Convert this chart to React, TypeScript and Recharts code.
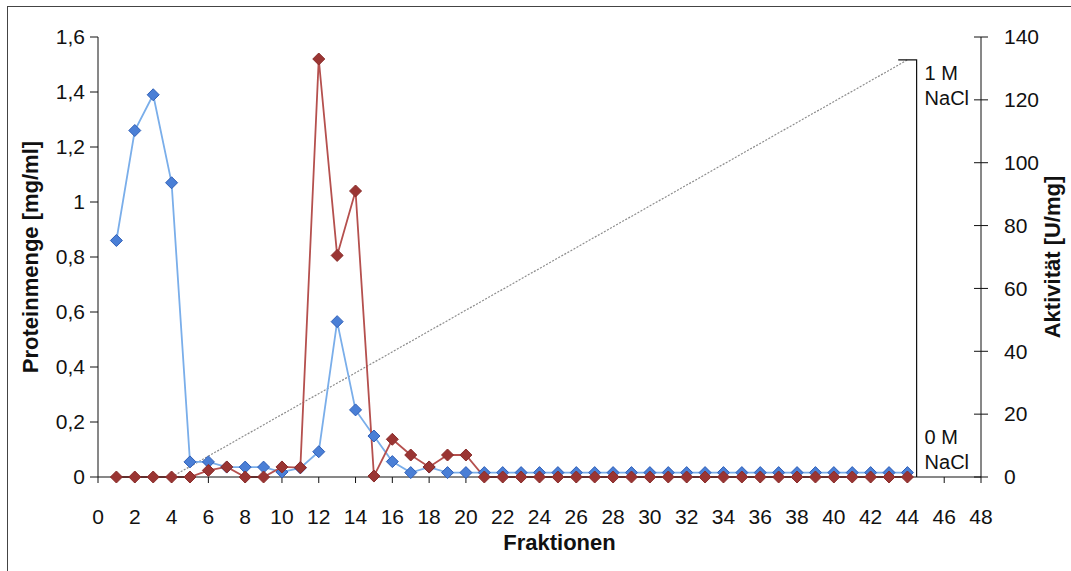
import React from "react";
import { LineChart, Line, XAxis, YAxis, Label } from "recharts";

// Fraction numbers collected from the column
const fractions = [
  1, 2, 3, 4, 5, 6, 7, 8, 9, 10, 11, 12, 13, 14, 15, 16, 17, 18, 19, 20, 21, 22,
  23, 24, 25, 26, 27, 28, 29, 30, 31, 32, 33, 34, 35, 36, 37, 38, 39, 40, 41, 42, 43, 44,
];

// Protein content per fraction [mg/ml]
const protein = [
  0.86, 1.26, 1.39, 1.07, 0.055, 0.055, 0.036, 0.036, 0.036, 0.018, 0.033, 0.092,
  0.565, 0.244, 0.149, 0.056, 0.016, 0.036, 0.016, 0.016, 0.016, 0.016, 0.016, 0.016,
  0.016, 0.016, 0.016, 0.016, 0.016, 0.016, 0.016, 0.016, 0.016, 0.016, 0.016, 0.016,
  0.016, 0.016, 0.016, 0.016, 0.016, 0.016, 0.016, 0.016,
];

// Specific activity per fraction [U/mg]
const activity = [
  0, 0, 0, 0, 0, 2.1, 3.2, 0, 0, 3.2, 3.0, 133, 70.5, 91, 0.3, 12, 7, 3.2, 7, 7,
  0, 0, 0, 0, 0, 0, 0, 0, 0, 0, 0, 0, 0, 0, 0, 0, 0, 0, 0, 0, 0, 0, 0, 0,
];

const xTicks = [0, 2, 4, 6, 8, 10, 12, 14, 16, 18, 20, 22, 24, 26, 28, 30, 32, 34, 36, 38, 40, 42, 44, 46, 48];
const proteinTicks = [0, 0.2, 0.4, 0.6, 0.8, 1, 1.2, 1.4, 1.6];
const activityTicks = [0, 20, 40, 60, 80, 100, 120, 140];

// Linear NaCl gradient: fraction where it starts (0 M) and ends (1 M)
const gradientFractions = [4, 44];
const gradientMolarity = [0, 1];
// Bracket drawn beside the last fraction to mark the 0 M .. 1 M range
const bracketFractions = [43.5, 44.5, 44.5];
const bracketMolarity = [1, 1, 0];

const data = fractions.map((f, i) => ({ fraction: f, protein: protein[i], activity: activity[i] }));
const gradientData = gradientFractions.map((f, i) => ({ fraction: f, nacl: gradientMolarity[i] }));
const bracketData = bracketFractions.map((f, i) => ({ fraction: f, nacl: bracketMolarity[i] }));

const FONT = "'Liberation Sans', Arial, sans-serif";
const TICK_FS = 21;
const NOTE_FS = 20;
const TITLE_FS = 22;
const TICK_SIZE = 8;
const TICK_MARGIN = 5;
const INK = "#111";

const comma = (v: number) => String(v).replace(".", ",");

const Diamond = (color: string, edge: string) => (props: any) => {
  const { cx, cy, index } = props;
  if (cx == null || cy == null) return null;
  const r = 6;
  return (
    <path
      key={index}
      d={`M${cx},${cy - r} L${cx + r},${cy} L${cx},${cy + r} L${cx - r},${cy} Z`}
      fill={color}
      stroke={edge}
      strokeWidth={1}
    />
  );
};

const LeftTick = (props: any) => {
  const { x, y, payload } = props;
  return (
    <text x={x} y={y} dy="0.35em" textAnchor="end" fontFamily={FONT} fontSize={TICK_FS} fill={INK}>
      {comma(payload.value)}
    </text>
  );
};

// Right axis ticks cross the axis line
const RightTick = (props: any) => {
  const { x, y, payload } = props;
  const axisX = x - TICK_MARGIN;
  return (
    <g>
      <line x1={axisX - 7} x2={axisX + 7} y1={y} y2={y} stroke={INK} strokeWidth={1} />
      <text x={x + 18} y={y} dy="0.35em" textAnchor="start" fontFamily={FONT} fontSize={TICK_FS} fill={INK}>
        {payload.value}
      </text>
    </g>
  );
};

const BottomTick = (props: any) => {
  const { x, y, payload } = props;
  return (
    <text x={x} y={y + 34} dy="0.35em" textAnchor="middle" fontFamily={FONT} fontSize={TICK_FS} fill={INK}>
      {payload.value}
    </text>
  );
};

const NaClLabel = (props: any) => {
  const { index } = props;
  const x = props.x ?? props.viewBox?.x;
  const y = props.y ?? props.viewBox?.y;
  if (x == null || y == null) return null;
  const style = { fontFamily: FONT, fontSize: NOTE_FS, fill: INK };
  if (index === 1) {
    return (
      <g>
        <text x={x + 8} y={y + 13} dy="0.35em" {...style}>1 M</text>
        <text x={x + 8} y={y + 38} dy="0.35em" {...style}>NaCl</text>
      </g>
    );
  }
  if (index === 2) {
    return (
      <g>
        <text x={x + 8} y={y - 40} dy="0.35em" {...style}>0 M</text>
        <text x={x + 8} y={y - 15} dy="0.35em" {...style}>NaCl</text>
      </g>
    );
  }
  return null;
};

const LeftTitle = (props: any) => {
  const { viewBox } = props;
  const cx = viewBox.x - 8;
  const cy = viewBox.y + viewBox.height / 2;
  return (
    <text
      x={cx}
      y={cy}
      dy="0.35em"
      textAnchor="middle"
      transform={`rotate(-90 ${cx} ${cy})`}
      fontFamily={FONT}
      fontSize={TITLE_FS}
      fontWeight="bold"
      fill={INK}
    >
      Proteinmenge [mg/ml]
    </text>
  );
};

const RightTitle = (props: any) => {
  const { viewBox } = props;
  const cx = viewBox.x + viewBox.width + 11;
  const cy = viewBox.y + viewBox.height / 2;
  return (
    <text
      x={cx}
      y={cy}
      dy="0.35em"
      textAnchor="middle"
      transform={`rotate(-90 ${cx} ${cy})`}
      fontFamily={FONT}
      fontSize={TITLE_FS}
      fontWeight="bold"
      fill={INK}
    >
      Aktivität [U/mg]
    </text>
  );
};

const BottomTitle = (props: any) => {
  const { viewBox } = props;
  const cx = viewBox.x + viewBox.width / 2 + 20;
  const cy = viewBox.y + 65;
  return (
    <text x={cx} y={cy} dy="0.35em" textAnchor="middle" fontFamily={FONT} fontSize={TITLE_FS} fontWeight="bold" fill={INK}>
      Fraktionen
    </text>
  );
};

export default function App() {
  return (
    <div
      style={{
        position: "absolute",
        left: 0,
        top: 0,
        width: 1071,
        height: 571,
        background: "#fff",
        overflow: "hidden",
      }}
    >
      <div
        style={{
          position: "absolute",
          left: 7,
          top: 6,
          width: 1080,
          height: 600,
          borderLeft: "1.5px solid #444",
          borderTop: "1.5px solid #444",
        }}
      />
      <LineChart
        width={1071}
        height={571}
        data={data}
        margin={{ top: 37, right: 30, bottom: 34, left: 38 }}
        style={{ position: "absolute", left: 0, top: 0 }}
      >
        <XAxis
          dataKey="fraction"
          type="number"
          domain={[0, 48]}
          ticks={xTicks}
          interval={0}
          height={60}
          tickSize={6}
          tickMargin={0}
          stroke={INK}
          tick={<BottomTick />}
          allowDataOverflow
        >
          <Label content={<BottomTitle />} />
        </XAxis>
        <YAxis
          yAxisId="left"
          orientation="left"
          domain={[0, 1.6]}
          ticks={proteinTicks}
          interval={0}
          width={60}
          tickSize={TICK_SIZE}
          tickMargin={TICK_MARGIN}
          stroke={INK}
          tick={<LeftTick />}
        >
          <Label content={<LeftTitle />} />
        </YAxis>
        <YAxis
          yAxisId="right"
          orientation="right"
          domain={[0, 140]}
          ticks={activityTicks}
          interval={0}
          width={60}
          tickSize={0}
          tickMargin={TICK_MARGIN}
          tickLine={false}
          stroke={INK}
          tick={<RightTick />}
        >
          <Label content={<RightTitle />} />
        </YAxis>
        <YAxis yAxisId="nacl" hide domain={[0, 1.055]} allowDataOverflow />

        <Line
          yAxisId="nacl"
          data={gradientData}
          dataKey="nacl"
          stroke="#8c8c8c"
          strokeWidth={1.2}
          strokeDasharray="2 1.5"
          dot={false}
          activeDot={false}
          isAnimationActive={false}
        />
        <Line
          yAxisId="nacl"
          data={bracketData}
          dataKey="nacl"
          type="linear"
          stroke={INK}
          strokeWidth={1.2}
          dot={false}
          activeDot={false}
          isAnimationActive={false}
          label={<NaClLabel />}
        />

        <Line
          yAxisId="left"
          dataKey="protein"
          stroke="#7aaeea"
          strokeWidth={1.8}
          dot={Diamond("#4a7fd6", "#2f5fb8")}
          activeDot={false}
          isAnimationActive={false}
        />
        <Line
          yAxisId="right"
          dataKey="activity"
          stroke="#b5504e"
          strokeWidth={1.8}
          dot={Diamond("#9a3533", "#8a2c2a")}
          activeDot={false}
          isAnimationActive={false}
        />
      </LineChart>
    </div>
  );
}
